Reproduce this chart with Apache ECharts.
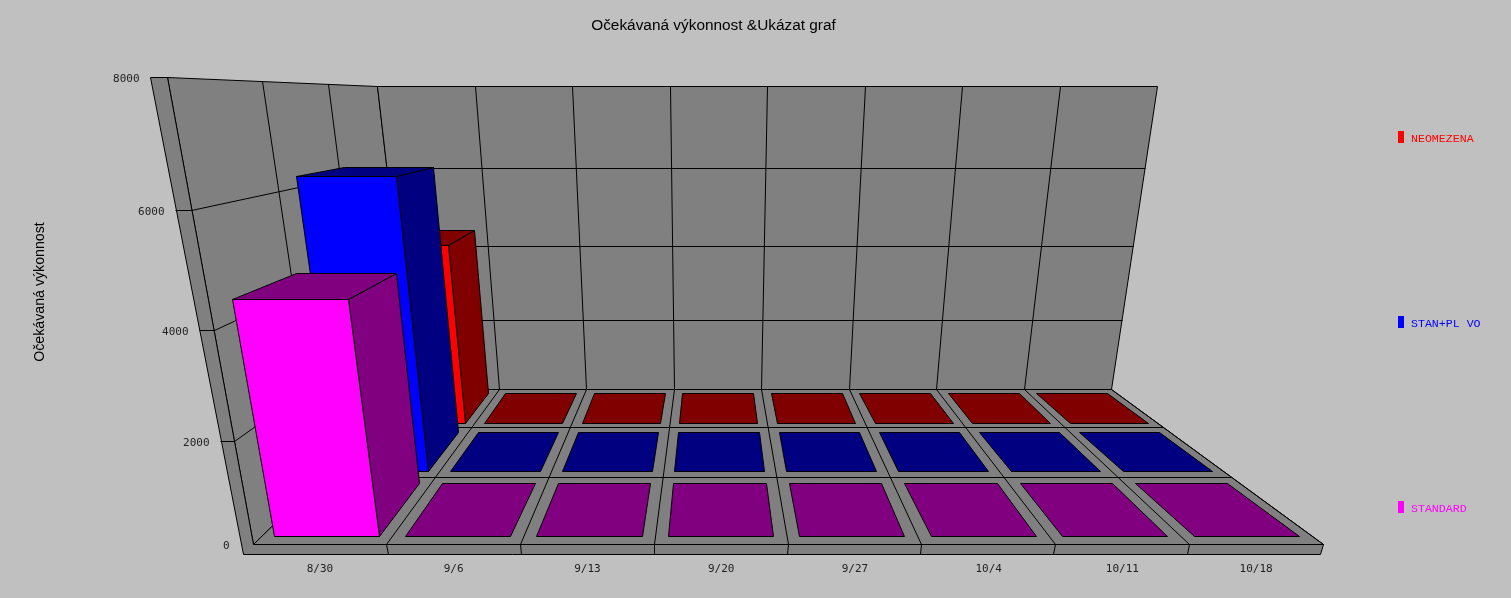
<!DOCTYPE html>
<html>
<head>
<meta charset="utf-8">
<style>html,body{margin:0;padding:0;background:#c0c0c0}#c{width:1511px;height:598px}</style>
<script src="https://cdn.jsdelivr.net/npm/echarts@6/dist/echarts.min.js"></script>
</head>
<body>
<div id="c"></div>
<script>
var categories = ['8/30','9/6','9/13','9/20','9/27','10/4','10/11','10/18'];
var neomezena = [4450,0,0,0,0,0,0,0];
var stanPlVo  = [6250,0,0,0,0,0,0,0];
var standard  = [4470,0,0,0,0,0,0,0];
var yTicks = [0,2000,4000,6000,8000];
var seriesNames = ['NEOMEZENA','STAN+PL VO','STANDARD'];
var frontColors = ['#ff0000','#0000ff','#ff00ff'];
var darkColors  = ['#800000','#000080','#800080'];
var depthSlots = [2,1,0];

// camera: homogeneous projection of chart space (x 0..1, depth 0..1, height 0..1)
function project(x, z, h) {
  var d = 1 + 0.529 * z - 0.157 * h;
  var u = (253 + 1070 * x + 377 * z - 111.5 * h) / d;
  var v = (544 + 52.3 * z - 478.3 * h) / d;
  return [Math.floor(u) + 0.5, Math.floor(v) + 0.5];
}
var SLAB = 0.0281, DEPTHS = 3;
function wall(h) { return 0.0113 + 0.0027 * h; }
var LINE = {stroke:'#000', lineWidth:1};

function poly(pts, fill) {
  return {type:'polygon', shape:{points:pts}, style:{fill:fill, stroke:'#000', lineWidth:1}};
}
function flat(pts, fill) {
  return {type:'polygon', shape:{points:pts}, style:{fill:fill}};
}
function seg(a, b) {
  return {type:'line', shape:{x1:a[0],y1:a[1],x2:b[0],y2:b[1]}, style:LINE};
}

function renderScene(params, api) {
  var cs = params.coordSys, kids = [], GR = '#808080', n = categories.length;
  var P = project;
  var outerTop = P(-wall(1),0,1), outerBot = P(-wall(-SLAB),0,-SLAB);
  kids.push(poly([P(0,0,0),P(0,1,0),P(0,1,1),P(0,0,1)], GR));
  kids.push(poly([P(0,1,0),P(1,1,0),P(1,1,1),P(0,1,1)], GR));
  kids.push(poly([P(0,0,0),P(1,0,0),P(1,1,0),P(0,1,0)], GR));
  kids.push(flat([outerBot,P(0,0,-SLAB),P(0,0,0),P(0,0,1),outerTop], GR));
  kids.push(flat([outerBot,P(1,0,-SLAB),P(1,0,0),P(0,0,0)], GR));
  kids.push(seg(outerTop, outerBot));
  kids.push(seg(outerTop, P(0,0,1)));
  kids.push(seg(P(0,0,1), P(0,0,0)));
  kids.push(seg(P(0,0,0), P(1,0,0)));
  kids.push(seg(outerBot, P(1,0,-SLAB)));
  var i;
  for (i = 1; i <= n; i++) {
    var x = i / n;
    kids.push(seg(P(x,0,0), P(x,1,0)));
    kids.push(seg(P(x,0,-SLAB), P(x,0,0)));
    if (i < n) kids.push(seg(P(x,1,0), P(x,1,1)));
  }
  for (i = 1; i < DEPTHS; i++) {
    var z = i / DEPTHS;
    kids.push(seg(P(0,z,0), P(1,z,0)));
    kids.push(seg(P(0,z,0), P(0,z,1)));
  }
  yTicks.forEach(function (t) {
    var py = api.coord([0, t])[1];
    var h = (cs.y + cs.height - py) / cs.height;
    if (h > 0 && h < 1) {
      kids.push(seg(P(-wall(h),0,h), P(0,0,h)));
      kids.push(seg(P(0,0,h), P(0,1,h)));
      kids.push(seg(P(0,1,h), P(1,1,h)));
    }
    var a = P(-wall(h),0,h);
    kids.push({type:'text', style:{text:String(t), x:a[0]-11, y:a[1]+2, align:'right', verticalAlign:'middle',
      font:'11px "DejaVu Sans Mono"', fill:'#222'}});
  });
  return {type:'group', children:kids};
}

function barRenderer(slot, dark, front) {
  return function (params, api) {
    var cs = params.coordSys;
    var c = api.coord([api.value(0), api.value(1)]);
    var band = api.size([1,0])[0];
    var x0 = (c[0] - band/2 + 0.1*band - cs.x) / cs.width;
    var x1 = (c[0] + band/2 - 0.1*band - cs.x) / cs.width;
    var h = (cs.y + cs.height - c[1]) / cs.height;
    var z0 = (slot + 0.1) / DEPTHS, z1 = (slot + 0.9) / DEPTHS;
    var P = project, kids = [];
    if (h > 0) {
      kids.push(poly([P(x1,z0,0),P(x1,z1,0),P(x1,z1,h),P(x1,z0,h)], dark));
      kids.push(poly([P(x0,z0,0),P(x1,z0,0),P(x1,z0,h),P(x0,z0,h)], front));
    }
    kids.push(poly([P(x0,z0,h),P(x1,z0,h),P(x1,z1,h),P(x0,z1,h)], dark));
    return {type:'group', children:kids};
  };
}

function points(values) {
  return values.map(function (v, i) { return [i, v]; });
}

var valueSets = [neomezena, stanPlVo, standard];
var series = [{
  type:'custom', name:'scene', silent:true, renderItem:renderScene, data:[[0,0]], z:1
}];
seriesNames.forEach(function (name, k) {
  series.push({
    type:'custom', name:name, silent:true, z:2+k,
    itemStyle:{color:frontColors[k]},
    renderItem:barRenderer(depthSlots[k], darkColors[k], frontColors[k]),
    data:points(valueSets[k])
  });
});

var legendRich = {};
frontColors.forEach(function (c, k) {
  legendRich['s' + k] = {color:c, fontFamily:'Liberation Mono', fontSize:11.6, padding:[4,0,0,2]};
});

var chart = echarts.init(document.getElementById('c'));
chart.setOption({
  animation:false,
  backgroundColor:'#c0c0c0',
  title:{text:'Očekávaná výkonnost &Ukázat graf', left:708.5, top:13, textAlign:'center',
    textStyle:{fontFamily:'Liberation Sans', fontSize:15.4, fontWeight:'normal', color:'#000'}},
  legend:{orient:'vertical', left:1398, top:131, padding:0, itemWidth:6, itemHeight:12, itemGap:171, icon:'rect',
    selectedMode:false,
    formatter:function (name) { return '{s' + seriesNames.indexOf(name) + '|' + name + '}'; },
    textStyle:{rich:legendRich},
    data:seriesNames},
  grid:{left:253, width:1070, top:40, height:504, containLabel:false},
  xAxis:{type:'category', data:categories,
    axisLine:{show:false}, axisTick:{show:false}, splitLine:{show:false},
    axisLabel:{margin:20, interval:0, color:'#222', fontFamily:'DejaVu Sans Mono', fontSize:11}},
  yAxis:{type:'value', min:0, max:8000, interval:2000,
    axisLine:{show:false}, axisTick:{show:false}, splitLine:{show:false}, axisLabel:{show:false},
    name:'Očekávaná výkonnost', nameLocation:'middle', nameGap:206, nameRotate:90,
    nameTextStyle:{fontFamily:'Liberation Sans', fontSize:14.2, color:'#000'}},
  series:series
});
</script>
</body>
</html>
